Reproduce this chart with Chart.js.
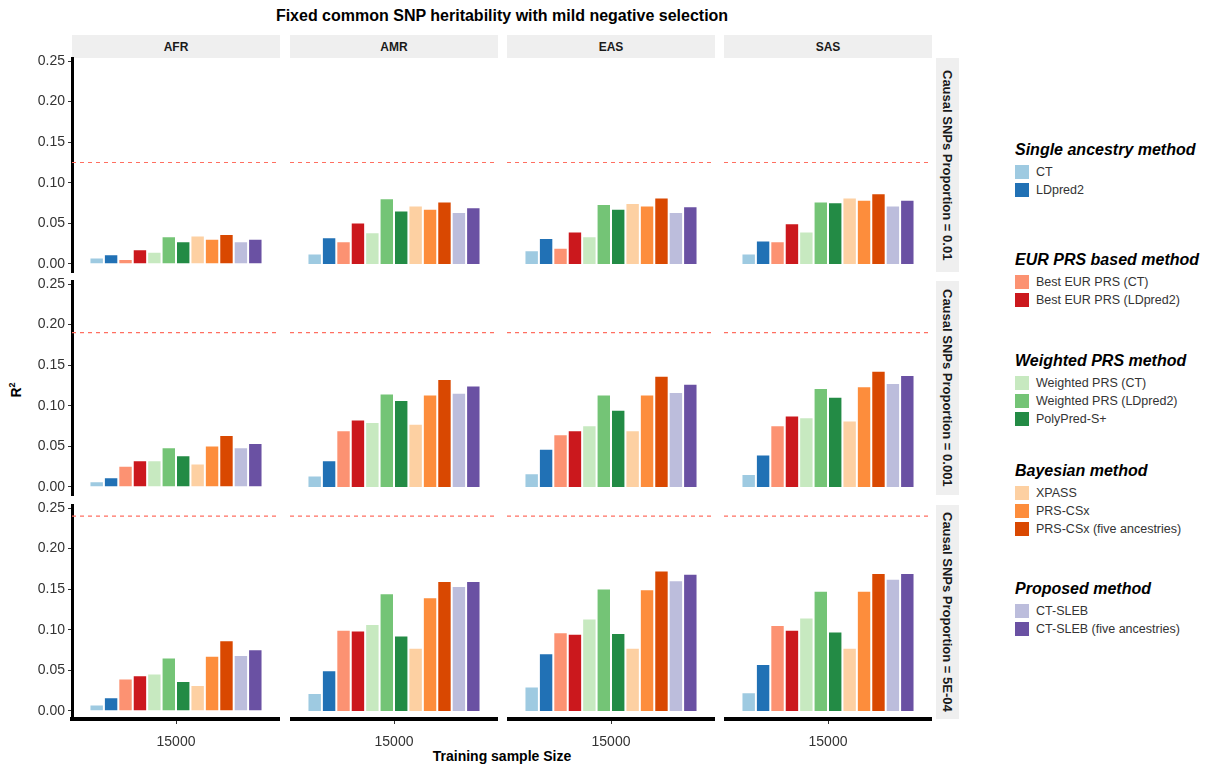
<!DOCTYPE html>
<html>
<head>
<meta charset="UTF-8">
<title>Fixed common SNP heritability with mild negative selection</title>
<script src="https://cdn.jsdelivr.net/npm/chart.js"></script>
<style>
  *{margin:0; padding:0;}
  body{width:1211px; height:765px; background:#fff; font-family:"Liberation Sans", Arial, sans-serif; position:relative; overflow:hidden;}
  .abs{position:absolute;}
  .strip{position:absolute; background:#efefef; color:#1a1a1a; font-weight:bold; font-size:12px; display:flex; align-items:center; justify-content:center;}
  .rstrip{position:absolute; background:#efefef; color:#1a1a1a; font-weight:bold; font-size:13px; writing-mode:vertical-rl; display:flex; align-items:center; justify-content:center;}
  .lgtitle{position:absolute; left:1015px; font-weight:bold; font-style:italic; font-size:16px; color:#000; white-space:nowrap;}
  .lgitem{position:absolute; left:1015px; font-size:12.5px; color:#333; white-space:nowrap; display:flex; align-items:center;}
  .lgitem span{display:inline-block; width:14px; height:14px; margin-right:7px;}
</style>
</head>
<body>
<script>
// categories
const ancestries = ['AFR', 'AMR', 'EAS', 'SAS'];
const proportions = ['0.01', '0.001', '5E-04'];
const sampleSizes = ['15000'];
const methods = ['CT', 'LDpred2', 'Best EUR PRS (CT)', 'Best EUR PRS (LDpred2)',
  'Weighted PRS (CT)', 'Weighted PRS (LDpred2)', 'PolyPred-S+',
  'XPASS', 'PRS-CSx', 'PRS-CSx (five ancestries)', 'CT-SLEB', 'CT-SLEB (five ancestries)'];
const methodColors = ['#9ecae1', '#2171b5', '#fc9272', '#cb181d', '#c7e9c0', '#74c476', '#238b45',
  '#fdd0a2', '#fd8d3c', '#d94801', '#bcbddc', '#6a51a3'];
const groups = ['Single ancestry method', 'EUR PRS based method', 'Weighted PRS method', 'Bayesian method', 'Proposed method'];
const groupSizes = [2, 2, 3, 3, 2];

// common SNP heritability (dashed line), one per proportion row
const heritability = [0.125, 0.19, 0.24];
const yTicks = [0, 0.05, 0.10, 0.15, 0.20, 0.25];

// R2 values, method order as above
const afr_001 = [0.008, 0.012, 0.006, 0.018, 0.015, 0.034, 0.028, 0.035, 0.031, 0.037, 0.028, 0.031];
const amr_001 = [0.013, 0.033, 0.028, 0.051, 0.039, 0.081, 0.066, 0.072, 0.068, 0.077, 0.064, 0.070];
const eas_001 = [0.017, 0.032, 0.020, 0.040, 0.034, 0.074, 0.068, 0.075, 0.072, 0.082, 0.064, 0.071];
const sas_001 = [0.013, 0.029, 0.028, 0.050, 0.040, 0.077, 0.076, 0.082, 0.079, 0.087, 0.072, 0.079];

const afr_0001 = [0.007, 0.012, 0.026, 0.033, 0.033, 0.049, 0.039, 0.029, 0.051, 0.064, 0.049, 0.054];
const amr_0001 = [0.014, 0.033, 0.070, 0.083, 0.080, 0.115, 0.107, 0.078, 0.114, 0.133, 0.116, 0.125];
const eas_0001 = [0.017, 0.047, 0.065, 0.070, 0.076, 0.114, 0.095, 0.070, 0.114, 0.137, 0.117, 0.127];
const sas_0001 = [0.016, 0.040, 0.076, 0.088, 0.086, 0.122, 0.111, 0.082, 0.124, 0.143, 0.128, 0.138];

const afr_5e4 = [0.008, 0.017, 0.040, 0.044, 0.046, 0.066, 0.037, 0.032, 0.068, 0.087, 0.069, 0.076];
const amr_5e4 = [0.022, 0.050, 0.100, 0.099, 0.107, 0.145, 0.093, 0.078, 0.140, 0.160, 0.154, 0.160];
const eas_5e4 = [0.030, 0.071, 0.097, 0.095, 0.114, 0.151, 0.096, 0.078, 0.150, 0.173, 0.161, 0.169];
const sas_5e4 = [0.023, 0.058, 0.106, 0.100, 0.115, 0.148, 0.098, 0.078, 0.148, 0.170, 0.163, 0.170];

const panels = [
  [afr_001, amr_001, eas_001, sas_001],
  [afr_0001, amr_0001, eas_0001, sas_0001],
  [afr_5e4, amr_5e4, eas_5e4, sas_5e4]
];

// layout
const colLeft = [72, 290, 507, 724];
const panelW = 208;
const rowTop = [58, 281, 505];
const panelH = 214;
const padTop = 13;
const padBottom = 13;
const xAxisH = 35;

function el(cls, css, text) {
  const d = document.createElement('div');
  d.className = cls;
  Object.assign(d.style, css);
  if (text !== undefined) d.textContent = text;
  document.body.appendChild(d);
  return d;
}

// title
el('abs', {left: '0px', width: '1004px', top: '7px', textAlign: 'center', fontWeight: 'bold', fontSize: '16px', color: '#000'},
  'Fixed common SNP heritability with mild negative selection');

// column strips
ancestries.forEach(function(a, c) {
  el('strip', {left: colLeft[c] + 'px', top: '35px', width: panelW + 'px', height: '23px'}, a);
});
// row strips
proportions.forEach(function(p, r) {
  el('rstrip', {left: '936px', top: rowTop[r] + 'px', width: '23px', height: panelH + 'px'}, 'Causal SNPs Proportion = ' + p);
});

// axis titles
const yl = el('abs', {left: '4px', top: '378px', width: '30px', height: '24px', fontWeight: 'bold', fontSize: '14px', color: '#000',
  transform: 'rotate(-90deg)', textAlign: 'center'});
yl.innerHTML = 'R<sup style="font-size:9px">2</sup>';
el('abs', {left: '72px', width: '860px', top: '748px', textAlign: 'center', fontWeight: 'bold', fontSize: '14px', color: '#000'},
  'Training sample Size');

// legend
const groupTitleY = [141, 251, 352, 462, 580];
let mi = 0;
groups.forEach(function(g, gi) {
  el('lgtitle', {top: groupTitleY[gi] + 'px'}, g);
  for (let k = 0; k < groupSizes[gi]; k++) {
    const item = el('lgitem', {top: (groupTitleY[gi] + 24 + k * 18) + 'px'});
    const sw = document.createElement('span');
    sw.style.background = methodColors[mi];
    item.appendChild(sw);
    item.appendChild(document.createTextNode(methods[mi]));
    mi++;
  }
});

// dashed heritability line
const hLine = {
  id: 'hLine',
  afterDatasetsDraw(chart, args, opts) {
    const ctx = chart.ctx, area = chart.chartArea;
    const y = chart.scales.y.getPixelForValue(opts.value);
    ctx.save();
    ctx.strokeStyle = '#ff6f61';
    ctx.lineWidth = 1.2;
    ctx.setLineDash([4, 4]);
    ctx.beginPath();
    ctx.moveTo(area.left, y);
    ctx.lineTo(area.right, y);
    ctx.stroke();
    ctx.restore();
  }
};

// charts
panels.forEach(function(row, r) {
  row.forEach(function(vals, c) {
    const leftCol = c === 0;
    const bottomRow = r === panels.length - 1;
    const cv = document.createElement('canvas');
    const left = leftCol ? 0 : colLeft[c];
    const w = leftCol ? colLeft[0] + panelW : panelW;
    const h = padTop + panelH + (bottomRow ? xAxisH : padBottom);
    cv.width = w; cv.height = h;
    cv.style.position = 'absolute';
    cv.style.left = left + 'px';
    cv.style.top = (rowTop[r] - padTop) + 'px';
    document.body.appendChild(cv);

    new Chart(cv, {
      type: 'bar',
      data: {
        labels: sampleSizes,
        datasets: methods.map(function(m, i) {
          return {
            label: m,
            data: [vals[i]],
            backgroundColor: methodColors[i],
            borderColor: 'rgba(255,255,255,0.85)',
            borderWidth: 1,
            categoryPercentage: 0.832,
            barPercentage: 1.0
          };
        })
      },
      options: {
        responsive: false,
        animation: false,
        layout: {padding: {top: padTop, left: 0, right: 0, bottom: bottomRow ? 0 : padBottom}},
        plugins: {
          legend: {display: false},
          tooltip: {enabled: false},
          hLine: {value: heritability[r]}
        },
        scales: {
          x: {
            display: bottomRow,
            grid: {display: true, offset: false, drawOnChartArea: false, drawTicks: true, tickLength: 5, color: '#333', tickColor: '#333'},
            border: {display: true, color: '#000', width: 4},
            ticks: {color: '#333', font: {family: '"Liberation Sans", Arial', size: 14}, padding: 10},
            afterFit: function(s) { if (bottomRow) s.height = xAxisH; }
          },
          y: {
            display: leftCol,
            min: -0.0099,
            max: 0.2537,
            afterBuildTicks: function(s) { s.ticks = yTicks.map(function(v) { return {value: v}; }); },
            grid: {display: true, drawOnChartArea: false, drawTicks: true, tickLength: 4, color: '#333', tickColor: '#333'},
            border: {display: true, color: '#000', width: 3},
            ticks: {
              color: '#333',
              padding: 3,
              font: {family: '"Liberation Sans", Arial', size: 14},
              callback: function(v) { return Number(v).toFixed(2); }
            },
            afterFit: function(s) { if (leftCol) s.width = colLeft[0]; }
          }
        }
      },
      plugins: [hLine]
    });
  });
});
</script>
</body>
</html>
